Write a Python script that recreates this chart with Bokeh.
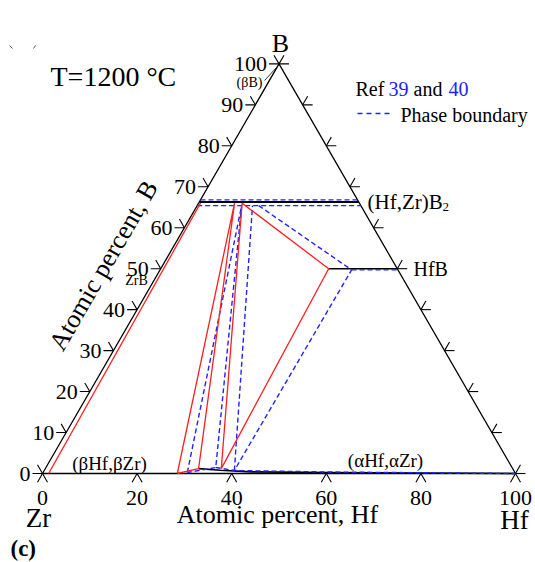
import numpy as np
from bokeh.plotting import figure
from bokeh.models import Range1d
from bokeh.core.properties import value
from bokeh.embed import file_html
from bokeh.resources import INLINE

# ---------------------------------------------------------------------------
# Zr-Hf-B isothermal section, compositions in at.% (Hf, B)
# ---------------------------------------------------------------------------
# calculated boundaries (red)
calc_zr_edge_hf = [1.3, 0.4]
calc_zr_edge_b = [0.0, 66.0]
calc_tri1_hf = [28.5, 7.6, 32.4, 28.5]          # beta + alpha + MB2
calc_tri1_b = [0.0, 66.0, 1.2, 0.0]
calc_tri2_hf = [37.2, 9.2, 35.5, 37.2]          # alpha + MB2 + HfB
calc_tri2_b = [1.2, 66.0, 50.0, 1.2]

# phase boundaries from Ref 39 and 40 (blue dashed)
ref_tri1_hf = [30.5, 9.4, 35.9, 30.5]
ref_tri1_b = [0.24, 65.4, 1.46, 0.24]
ref_alpha_mb2_hf = [40.2, 11.7]
ref_alpha_mb2_b = [0.73, 65.4]
ref_tri2_hf = [13.0, 40.5, 40.2]
ref_tri2_b = [65.4, 49.7, 0.73]
ref_mb2_upper_hf = [0.0, 33.2]
ref_mb2_upper_b = [66.8, 66.8]
ref_mb2_lower_hf = [0.0, 34.6]
ref_mb2_lower_b = [65.4, 65.4]
ref_hfb_hf = [40.5, 50.3]
ref_hfb_b = [49.7, 49.7]
ref_alpha_hf = [35.9, 40.2, 60.0, 100.0]
ref_alpha_b = [1.46, 0.73, 0.37, 0.0]

# single-phase lines (black)
mb2_hf = [0.0, 33.7]
mb2_b = [66.3, 66.3]
hfb_hf = [35.5, 50.0]
hfb_b = [50.0, 50.0]
alpha_hf = [32.4, 37.2, 44.0, 60.0, 100.0]
alpha_b = [1.2, 0.8, 0.4, 0.25, 0.0]

# axis ticks
b_ticks = [0, 10, 20, 30, 40, 50, 60, 70, 80, 90, 100]
b_tick_labels = [str(v) for v in b_ticks]
hf_ticks = [0, 20, 40, 60, 80, 100]
hf_tick_labels = [str(v) for v in hf_ticks]
right_ticks = [0, 10, 20, 30, 40, 50, 60, 70, 80, 90, 100]

RED = "#ff1f1f"
BLUE = "#2222ff"
FONT = value("Liberation Serif")
S3 = np.sqrt(3) / 2
PX = 473.0  # screen pixels per unit of triangle side


def tern(hf, b):
    hf = np.asarray(hf, float) / 100.0
    b = np.asarray(b, float) / 100.0
    return hf + b / 2.0, b * S3


def scr(xp, yp):
    """screen position (px from top-left) -> plot units"""
    return (xp - 42.0) / PX, (473.0 - yp) / PX


x0, y1 = scr(0, 0)
x1, y0 = scr(535, 562)
p = figure(width=535, height=562, x_range=Range1d(x0, x1), y_range=Range1d(y0, y1),
           output_backend="svg", toolbar_location=None, min_border=0,
           x_axis_type=None, y_axis_type=None)
p.grid.visible = False
p.outline_line_color = None
p.background_fill_color = "white"
p.border_fill_color = "white"

# triangle frame
fx, fy = tern([0, 100, 0, 0], [0, 0, 100, 0])
p.line(fx, fy, line_color="black", line_width=1.3)

# ticks: two outward strokes along the grid directions
L = 10.0 / PX
sx0, sy0, sx1, sy1 = [], [], [], []
for b in b_ticks:
    cx, cy = tern(0, b)
    for dx, dy in [(-1, 0), (-0.5, S3)]:
        sx0.append(cx); sy0.append(cy); sx1.append(cx + L * dx); sy1.append(cy + L * dy)
for h in hf_ticks:
    cx, cy = tern(h, 0)
    for dx, dy in [(-0.5, -S3), (0.5, -S3)]:
        sx0.append(cx); sy0.append(cy); sx1.append(cx + L * dx); sy1.append(cy + L * dy)
for b in right_ticks:
    cx, cy = tern(100 - b, b)
    for dx, dy in [(1, 0), (0.5, S3)]:
        sx0.append(cx); sy0.append(cy); sx1.append(cx + L * dx); sy1.append(cy + L * dy)
p.segment(sx0, sy0, sx1, sy1, line_color="black", line_width=1.1)

# tick labels
lx, ly = tern([0] * len(b_ticks), b_ticks)
p.text(lx - 12.0 / PX, ly, text=b_tick_labels, text_font=FONT, text_font_size="22px",
       text_align="right", text_baseline="middle", text_color="black")
bx, by = tern(hf_ticks, [0] * len(hf_ticks))
p.text(bx, by - 24.0 / PX, text=hf_tick_labels, text_font=FONT, text_font_size="22px",
       text_align="center", text_baseline="middle", text_color="black")

# phase lines
def draw(hf, b, **kw):
    x, y = tern(hf, b)
    p.line(x, y, **kw)

red_kw = dict(line_color=RED, line_width=1.3)
blue_kw = dict(line_color=BLUE, line_width=1.4, line_dash="5 3")

draw(mb2_hf, mb2_b, line_color="black", line_width=2.0)
draw(hfb_hf, hfb_b, line_color="black", line_width=1.5)
draw(alpha_hf, alpha_b, line_color="black", line_width=1.6)

draw(ref_mb2_upper_hf, ref_mb2_upper_b, **blue_kw)
draw(ref_mb2_lower_hf, ref_mb2_lower_b, **blue_kw)
draw(ref_hfb_hf, ref_hfb_b, **blue_kw)
draw(ref_alpha_hf, ref_alpha_b, **blue_kw)
draw(ref_tri1_hf, ref_tri1_b, **blue_kw)
draw(ref_alpha_mb2_hf, ref_alpha_mb2_b, **blue_kw)
draw(ref_tri2_hf, ref_tri2_b, **blue_kw)

draw(calc_zr_edge_hf, calc_zr_edge_b, **red_kw)
draw(calc_tri1_hf, calc_tri1_b, **red_kw)
draw(calc_tri2_hf, calc_tri2_b, **red_kw)


def label(xp, yp, txt, size, align="left", color="black", style="normal", angle=0.0):
    x, y = scr(xp, yp)
    p.text([x], [y], text=[txt], text_font=FONT, text_font_size=size, text_align=align,
           text_baseline="middle", text_color=color, text_font_style=style, angle=angle)


# corner and axis titles
label(280, 43, "B", "26px", "center")
label(38, 517, "Zr", "27px", "center")
label(514, 519, "Hf", "27px", "center")
label(277, 514, "Atomic percent, Hf", "26px", "center")
label(103, 265, "Atomic percent, B", "26px", "center", angle=np.pi / 3)
label(50, 76, "T=1200 \u00b0C", "28px")
label(10, 548, "(c)", "23px", style="bold")

# phase labels
label(249, 82, "(\u03b2B)", "14px", "center")
ax_, ay_ = scr(264, 80)
bx_, by_ = scr(276, 67)
p.line([ax_, bx_], [ay_, by_], line_color="black", line_width=0.8)
label(136, 280, "ZrB", "14px", "center")
label(367, 201, "(Hf,Zr)B", "21px")
label(442, 206, "2", "13px")
label(413, 268, "HfB", "20px")
label(109, 463, "(\u03b2Hf,\u03b2Zr)", "19px", "center")
label(385, 460, "(\u03b1Hf,\u03b1Zr)", "19px", "center")

# legend
label(355, 88, "Ref", "20px")
label(388, 88, "39", "20px", color=BLUE)
label(413, 88, "and", "20px")
label(448, 88, "40", "20px", color=BLUE)
lx0, ly0 = scr(357, 113)
lx1, _ = scr(393, 113)
p.line([lx0, lx1], [ly0, ly0], line_color=BLUE, line_width=1.4, line_dash="5 4")
label(400, 114, "Phase boundary", "20px")

# small stray marks at the top-left
m = [scr(9, 45), scr(12, 48), scr(35, 45), scr(33, 48)]
p.segment([m[0][0], m[2][0]], [m[0][1], m[2][1]], [m[1][0], m[3][0]], [m[1][1], m[3][1]],
          line_color="#555555", line_width=1.0)

open("out.html", "w").write(file_html(p, INLINE))
